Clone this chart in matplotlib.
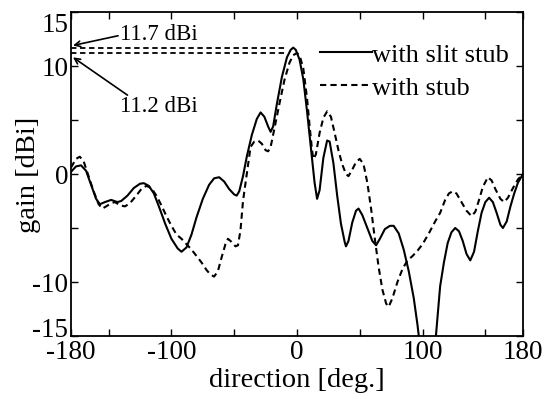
import matplotlib
matplotlib.use("Agg")
import matplotlib.pyplot as plt

plt.rcParams['font.family'] = ['Liberation Serif', 'DejaVu Serif']
plt.rcParams['axes.unicode_minus'] = False
plt.rcParams['mathtext.fontset'] = 'stix'

# with slit stub (solid)
slit_deg = [-180, -176, -172, -168, -164, -160, -157, -153, -148, -143, -140, -135, -130, -125, -122,
            -118, -114, -110, -105, -100, -95, -92, -88, -84, -80, -75, -70, -66, -62, -58, -54, -50,
            -48, -46, -43, -40, -36, -32, -29, -26, -23, -21, -19, -16, -12, -8, -5, -3, -1, 2, 5, 8,
            11, 14, 16, 18, 21, 24, 26, 29, 32, 35, 38, 39, 41, 44, 47, 49, 52, 56, 60, 63, 66, 70, 74,
            77, 81, 85, 89, 93, 96, 99, 102, 105, 108, 111, 114, 117, 120, 123, 126, 129, 132, 135,
            138, 141, 144, 147, 150, 153, 156, 159, 162, 164, 167, 170, 173, 176, 180]
slit_gain = [0.2, 0.7, 0.8, 0.3, -1.0, -2.3, -2.8, -2.6, -2.4, -2.6, -2.5, -2.0, -1.3, -0.9, -0.85,
             -1.1, -1.8, -3.0, -4.6, -6.0, -6.9, -7.2, -6.8, -5.6, -4.0, -2.3, -1.0, -0.4, -0.3, -0.7,
             -1.4, -1.9, -2.0, -1.6, -0.2, 1.6, 3.6, 5.1, 5.7, 5.3, 4.4, 3.9, 4.4, 6.5, 9.0, 10.8, 11.5,
             11.7, 11.5, 10.6, 8.8, 5.8, 2.5, -0.8, -2.3, -1.5, 1.5, 3.1, 3.0, 1.0, -2.0, -4.6, -6.3,
             -6.7, -6.2, -4.5, -3.4, -3.2, -3.8, -5.0, -6.2, -6.6, -6.0, -5.1, -4.8, -4.8, -5.5, -7.0,
             -9.0, -11.5, -14.0, -17.0, -22.0, -25.0, -19.0, -14.5, -10.4, -8.2, -6.4, -5.4, -5.0, -5.3,
             -6.2, -7.4, -8.0, -7.2, -5.3, -3.6, -2.6, -2.2, -2.6, -3.6, -4.7, -5.0, -4.4, -3.0, -1.8,
             -0.8, 0.0]

# with stub (dashed)
stub_deg = [-180, -176, -173, -170, -166, -162, -158, -155, -152, -148, -145, -141, -137, -133, -128,
            -124, -120, -116, -112, -108, -104, -100, -96, -92, -88, -84, -80, -76, -72, -69, -66, -63,
            -60, -57, -55, -52, -49, -47, -45, -43, -40, -37, -34, -31, -28, -25, -23, -21, -18, -14,
            -10, -6, -3, 0, 2, 5, 8, 10, 12, 13, 15, 18, 21, 24, 27, 30, 33, 36, 39, 41, 44, 47, 50, 53,
            56, 59, 62, 65, 68, 71, 73, 76, 80, 84, 88, 92, 96, 100, 105, 110, 114, 118, 121, 124, 127,
            131, 135, 139, 142, 145, 148, 152, 155, 158, 162, 165, 168, 172, 176, 180]
stub_gain = [0.6, 1.4, 1.6, 1.2, -0.2, -1.6, -2.8, -3.2, -3.0, -2.7, -2.6, -2.9, -3.0, -2.7, -2.0,
             -1.4, -1.1, -1.3, -2.0, -2.9, -3.9, -4.8, -5.6, -6.0, -6.5, -7.0, -7.6, -8.2, -8.9, -9.3,
             -9.5, -9.0, -7.7, -6.5, -6.0, -6.3, -6.7, -6.6, -5.2, -2.5, 0.0, 2.5, 3.0, 3.1, 2.8, 2.2,
             2.1, 2.5, 4.2, 6.5, 8.7, 10.3, 11.0, 11.2, 11.0, 9.8, 7.0, 4.5, 2.2, 1.4, 1.8, 3.8, 5.2,
             5.8, 5.3, 3.8, 2.2, 0.9, 0.0, -0.2, 0.4, 1.1, 1.4, 0.9, -0.8, -3.2, -6.0, -8.6, -10.7,
             -12.0, -12.3, -11.5, -10.0, -8.8, -8.0, -7.6, -7.1, -6.5, -5.5, -4.4, -3.6, -2.4, -1.8,
             -1.6, -1.8, -2.6, -3.4, -3.9, -3.5, -2.4, -1.2, -0.3, -0.6, -1.4, -2.3, -2.6, -2.2, -1.3,
             -0.5, 0.0]

peak_slit = 11.7
peak_stub = 11.2

x_ticks = [-180, -150, -100, -50, 0, 50, 100, 150, 180]
x_labels = ['-180', '', '-100', '', '0', '', '100', '', '180']
y_ticks = [-15, -10, -5, 0, 5, 10, 15]
y_labels = ['-15', '-10', '', '0', '', '10', '15']

fig = plt.figure(figsize=(5.44, 4.02), dpi=100)
ax = fig.add_axes([0.1305, 0.1617, 0.8309, 0.806])

ax.plot(slit_deg, slit_gain, color='black', lw=1.5, ls='-', label='with slit stub')
ax.plot(stub_deg, stub_gain, color='black', lw=1.5, ls=(0, (3, 2)), label='with stub')

ax.hlines([peak_slit, peak_stub], -180, -9, colors='black', lw=1.3, linestyles=(0, (3, 2)))

ax.set_xlim(-180, 180)
ax.set_ylim(-15, 15)
ax.set_xticks(x_ticks)
ax.set_xticklabels(x_labels)
ax.set_yticks(y_ticks)
ax.set_yticklabels(y_labels)
ax.tick_params(direction='in', top=True, right=True, length=5, width=1.0,
               labelsize=19.5, pad=2)
for s in ax.spines.values():
    s.set_linewidth(1.3)

ylab = ax.get_yticklabels()
ylab[0].set_va('baseline')
ylab[-1].set_va('top')

ax.set_xlabel('direction [deg.]', fontsize=20.5, labelpad=2)
ax.set_ylabel('gain [dBi]', fontsize=20.5, labelpad=-6)

ax.annotate('', xy=(-178.4, 11.9), xytext=(-142.5, 12.8),
            arrowprops=dict(arrowstyle='->', color='black', lw=1.2, shrinkA=0, shrinkB=0))
ax.text(-141, 13.05, '11.7 dBi', fontsize=16.5, va='center', ha='left')
ax.annotate('', xy=(-178.4, 10.8), xytext=(-135, 7.3),
            arrowprops=dict(arrowstyle='->', color='black', lw=1.2, shrinkA=0, shrinkB=0))
ax.text(-141, 6.3, '11.2 dBi', fontsize=16.5, va='center', ha='left')

leg = ax.legend(loc='upper left', bbox_to_anchor=(0.551, 0.905), frameon=False,
                fontsize=19, handlelength=1.95, handletextpad=0.0, labelspacing=0.37,
                borderpad=0, borderaxespad=0)

fig.savefig('out.png', dpi=100)
